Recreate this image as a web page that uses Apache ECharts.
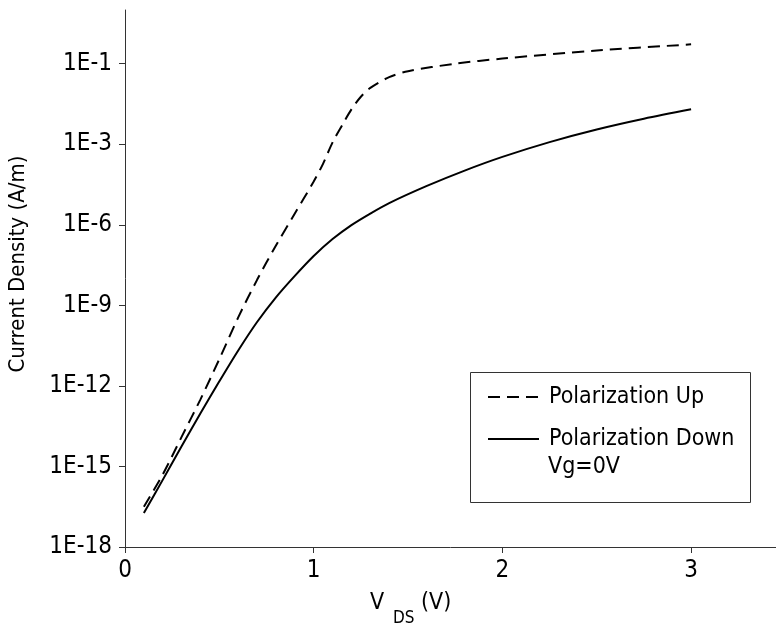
<!DOCTYPE html>
<html>
<head>
<meta charset="utf-8">
<title>Current Density vs VDS</title>
<script src="https://cdn.jsdelivr.net/npm/echarts@6/dist/echarts.min.js"></script>
<style>
  html, body { margin: 0; padding: 0; background: #fff; }
  #chart { width: 776px; height: 643px; }
</style>
</head>
<body>
<div id="chart"></div>
<script>
// data; y is the exponent position on the log axis
var vdsUp = [0.1, 0.2, 0.3, 0.4, 0.5, 0.6, 0.7, 0.8, 0.9, 1.0, 1.05, 1.1, 1.15, 1.2, 1.25, 1.3, 1.4, 1.5, 1.75, 2.0, 2.5, 3.0];
var expUp = [-16.5, -15.3, -13.9, -12.5, -11.0, -9.45, -8.05, -6.77, -5.58, -4.39, -3.72, -2.93, -2.3, -1.7, -1.23, -0.9, -0.5, -0.28, 0.0, 0.19, 0.49, 0.72];
var vdsDown = [0.1, 0.2, 0.3, 0.4, 0.5, 0.6, 0.7, 0.8, 0.9, 1.0, 1.1, 1.2, 1.3, 1.4, 1.6, 1.8, 2.0, 2.25, 2.5, 2.75, 3.0];
var expDown = [-16.73, -15.5, -14.25, -13.02, -11.83, -10.68, -9.62, -8.7, -7.9, -7.16, -6.53, -6.01, -5.58, -5.19, -4.55, -3.98, -3.47, -2.92, -2.45, -2.05, -1.7];
var xTicks = [0, 1, 2, 3];
var yTicks = [-18, -15, -12, -9, -6, -3, 0];
var yTickLabels = ['1E-18', '1E-15', '1E-12', '1E-9', '1E-6', '1E-3', '1E-1'];
var seriesNames = ['Polarization Up', 'Polarization Down'];

var font = 'DejaVu Sans Condensed';

function pairs(xs, ys) {
  return xs.map(function (x, i) { return [x, ys[i]]; });
}

(function () {
  var myChart = echarts.init(document.getElementById('chart'), null, { renderer: 'canvas' });
  var option = {
    animation: false,
    backgroundColor: '#fff',
    grid: {
      left: 125,
      top: 10,
      right: 0,
      bottom: 96
    },
    xAxis: {
      type: 'value',
      min: 0,
      max: 3.45,
      interval: 1,
      axisLine: { show: true, onZero: false, lineStyle: { color: '#333', width: 1 } },
      axisTick: { show: true, length: 6, customValues: xTicks, lineStyle: { color: '#333' } },
      axisLabel: {
        customValues: xTicks,
        margin: 12,
        color: '#000',
        fontSize: 24,
        fontFamily: font
      },
      splitLine: { show: false }
    },
    yAxis: {
      type: 'value',
      min: -18,
      max: 2,
      interval: 3,
      axisLine: { show: true, onZero: false, lineStyle: { color: '#333', width: 1 } },
      axisTick: { show: true, length: 6, customValues: yTicks, lineStyle: { color: '#333' } },
      axisLabel: {
        customValues: yTicks,
        margin: 13,
        color: '#000',
        fontSize: 24,
        fontFamily: font,
        formatter: function (v) {
          var i = yTicks.indexOf(v);
          return i >= 0 ? yTickLabels[i] : '';
        }
      },
      splitLine: { show: false }
    },
    legend: {
      orient: 'vertical',
      left: 487,
      top: 382,
      padding: 0,
      itemWidth: 51,
      itemHeight: 14,
      itemGap: 12,
      selectedMode: false,
      // hide the marker that echarts puts in the middle of a line icon
      itemStyle: { color: 'rgba(0,0,0,0)', borderColor: 'rgba(0,0,0,0)', borderWidth: 0 },
      textStyle: {
        color: '#000',
        fontSize: 23,
        fontFamily: font,
        lineHeight: 30,
        padding: [0, 0, 0, 5]
      },
      data: seriesNames
    },
    graphic: [
      {
        type: 'rect',
        shape: { x: 470.5, y: 372.5, width: 280, height: 130 },
        style: { fill: 'none', stroke: '#333', lineWidth: 1 },
        z: 1
      },
      {
        type: 'text',
        x: 548, y: 467,
        style: { text: 'Vg=0V', fill: '#000', fontSize: 23, fontFamily: font, verticalAlign: 'middle' }
      },
      {
        type: 'text',
        x: 18, y: 264,
        rotation: Math.PI / 2,
        style: { text: 'Current Density (A/m)', fill: '#000', fontSize: 22, fontFamily: font, align: 'center', verticalAlign: 'middle' }
      },
      {
        type: 'text',
        x: 370, y: 603,
        style: { text: 'V', fill: '#000', fontSize: 23, fontFamily: font, verticalAlign: 'middle' }
      },
      {
        type: 'text',
        x: 393, y: 619,
        style: { text: 'DS', fill: '#000', fontSize: 17, fontFamily: font, verticalAlign: 'middle' }
      },
      {
        type: 'text',
        x: 421, y: 603,
        style: { text: '(V)', fill: '#000', fontSize: 23, fontFamily: font, verticalAlign: 'middle' }
      }
    ],
    series: [
      {
        name: seriesNames[0],
        type: 'line',
        data: pairs(vdsUp, expUp),
        smooth: 0.3,
        symbol: 'none',
        lineStyle: { color: '#000', width: 2, type: [12, 7] },
        itemStyle: { color: '#000' }
      },
      {
        name: seriesNames[1],
        type: 'line',
        data: pairs(vdsDown, expDown),
        smooth: 0.3,
        symbol: 'none',
        lineStyle: { color: '#000', width: 2, type: 'solid' },
        itemStyle: { color: '#000' }
      }
    ]
  };
  myChart.setOption(option);
  window.addEventListener('resize', function () {
    myChart.resize();
  });
})();
</script>
</body>
</html>
